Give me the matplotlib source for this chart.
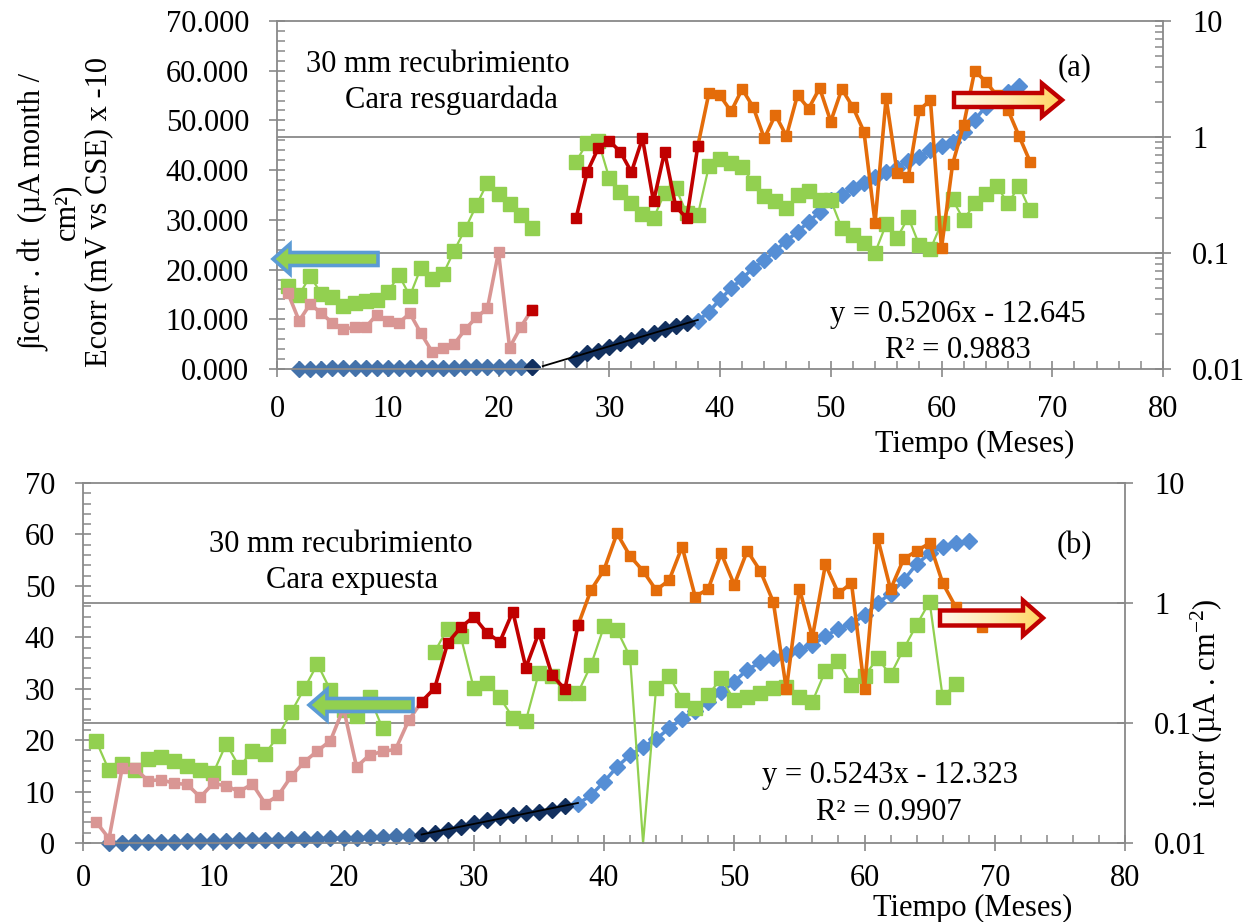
import numpy as np
import matplotlib.pyplot as plt
from matplotlib.patches import Polygon
from matplotlib.colors import LinearSegmentedColormap
from matplotlib.ticker import MultipleLocator, FormatStrFormatter, FuncFormatter, NullLocator, LogLocator
from matplotlib.transforms import blended_transform_factory

plt.rcParams['font.family'] = ['Liberation Serif', 'DejaVu Serif']
plt.rcParams['mathtext.default'] = 'regular'

# ---------------- (a) 30 mm recubrimiento, cara resguardada ----------------
# Ecorr (mV vs CSE) x -10, left axis; None = no measurement
months_ecorr_a = list(range(1, 69))
ecorr_a = [16.6, 14.9, 18.7, 15.1, 14.4, 12.7, 13.2, 13.7, 13.9, 15.4, 18.9, 14.7,
           20.4, 18.1, 19.1, 23.8, 28.2, 32.9, 37.5, 35.3, 33.2, 31.0, 28.4,
           None, None, None,
           41.7, 45.5, 45.9, 38.4, 35.7, 33.3, 31.2, 30.3, 35.4, 36.4,
           31.3, 31.0, 40.8, 42.2, 41.5, 40.7, 37.4, 34.7, 33.7, 32.3,
           35.0, 35.8, 34.0, 34.0, 28.3, 27.0, 25.3, 23.4, 29.1, 26.4,
           30.5, 24.9, 24.1, 29.3, 34.1, 30.0, 33.3, 35.2, 36.8, 33.3,
           36.8, 31.9]

# icorr (uA/cm2), right log axis, three periods
months_icorr_a1 = list(range(1, 24))
icorr_a1 = [0.0448, 0.0260, 0.0364, 0.0302, 0.0250, 0.0220, 0.0229, 0.0229, 0.0293,
            0.0260, 0.0250, 0.0302, 0.0203, 0.0141, 0.0153, 0.0164, 0.0220, 0.0279,
            0.0333, 0.1017, 0.0153, 0.0229, 0.0324]
months_icorr_a2 = list(range(23, 39))
icorr_a2 = [0.0324, None, None, None, 0.199, 0.498, 0.800, 0.927, 0.746, 0.498,
            0.974, 0.278, 0.746, 0.252, 0.199, 0.840]
months_icorr_a3 = list(range(38, 69))
icorr_a3 = [0.840, 2.39, 2.28, 1.66, 2.59, 1.81, 0.974, 1.55, 1.02, 2.30, 1.76, 2.64,
            1.36, 2.59, 1.81, 1.11, 0.182, 2.17, 0.488, 0.451, 1.71, 2.08, 0.110,
            0.583, 1.27, 3.73, 3.00, 2.28, 1.71, 1.02, 0.612]

# integral icorr.dt (uA month/cm2), left axis
months_int_a1 = list(range(2, 24))
int_a1 = [0.05, 0.1, 0.1, 0.15, 0.15, 0.2, 0.2, 0.2, 0.25, 0.25, 0.25, 0.3, 0.3,
          0.3, 0.3, 0.35, 0.35, 0.4, 0.4, 0.45, 0.5, 0.5]
months_int_a2 = list(range(23, 38))
int_a2 = [0.5, None, None, None, 2.1, 3.2, 3.6, 4.4, 5.2, 5.8, 6.6, 7.3, 8.0, 8.7, 9.3]
months_int_a3 = list(range(38, 68))
int_a3 = [9.7, 11.5, 14.0, 16.2, 18.2, 20.3, 21.9, 23.8, 25.8, 27.6, 29.6, 31.6,
          34.0, 35.0, 36.4, 37.4, 38.6, 39.6, 40.5, 41.9, 42.7, 44.1, 44.9, 45.7,
          47.7, 50.1, 52.8, 54.5, 55.8, 56.9]

# ---------------- (b) 30 mm recubrimiento, cara expuesta ----------------
months_ecorr_b = list(range(1, 68))
ecorr_b = [19.9, 14.1, 15.3, 14.2, 16.3, 16.7, 16.0, 15.0, 14.1, 13.6, 19.3, 14.8,
           17.9, 17.4, 20.9, 25.5, 30.1, 34.8, 29.7, 25.8, 24.7, 28.4, 22.3,
           None, None, None,
           37.2, 41.7, 40.2, 30.1, 31.2, 28.3, 24.4, 23.8, 33.1, 32.5,
           29.2, 29.2, 34.6, 42.1, 41.4, 36.2, 0.0, 30.1, 32.5, 27.9,
           26.2, 28.8, 32.0, 27.8, 28.4, 29.2, 30.1, 30.4, 28.4, 27.5,
           33.5, 35.3, 30.7, 32.5, 35.9, 32.7, 37.7, 42.4, 46.9, 28.4,
           30.9]

months_icorr_b1 = list(range(1, 27))
icorr_b1 = [0.0150, 0.0109, 0.0418, 0.0418, 0.0330, 0.0337, 0.0314, 0.0308, 0.0241,
            0.0314, 0.0299, 0.0268, 0.0311, 0.0212, 0.0250, 0.0361, 0.0475, 0.0585,
            0.0713, 0.133, 0.0431, 0.0541, 0.0579, 0.0603, 0.105, 0.151]
months_icorr_b2 = list(range(26, 39))
icorr_b2 = [0.151, 0.195, 0.465, 0.625, 0.769, 0.566, 0.474, 0.848, 0.289, 0.566,
            0.252, 0.191, 0.650]
months_icorr_b3 = list(range(38, 68)) + [69]
icorr_b3 = [0.650, 1.28, 1.89, 3.80, 2.46, 1.85, 1.28, 1.55, 2.94, 1.13, 1.31, 2.59,
            1.42, 2.72, 1.85, 1.02, 0.191, 1.32, 0.518, 2.10, 1.20, 1.47, 0.191,
            3.51, 1.30, 2.32, 2.72, 3.15, 1.47, 0.927, 0.631]

months_int_b1 = list(range(2, 26))
int_b1 = [0.0, 0.05, 0.1, 0.1, 0.2, 0.2, 0.3, 0.3, 0.4, 0.4, 0.5, 0.5, 0.6, 0.6,
          0.7, 0.7, 0.8, 0.9, 0.9, 1.0, 1.1, 1.2, 1.3, 1.4]
months_int_b2 = list(range(26, 38))
int_b2 = [1.6, 1.9, 2.5, 3.2, 3.8, 4.5, 5.1, 5.4, 5.9, 6.1, 6.5, 7.1]
months_int_b3 = list(range(38, 69))
int_b3 = [7.6, 9.3, 11.9, 14.8, 17.1, 18.7, 20.2, 22.3, 24.2, 25.7, 27.5, 29.3,
          31.4, 33.7, 35.1, 35.9, 36.7, 37.5, 38.5, 40.2, 41.7, 42.6, 44.3, 46.6,
          48.5, 51.1, 54.2, 56.3, 57.6, 58.3, 58.7]

GREEN = '#92D050'
PINK = '#D99694'
RED = '#C00000'
ORANGE = '#E46C0A'
BLUE1 = '#4472AA'
NAVY = '#12305F'
LBLUE = '#558ED5'
GRAY = '#898989'

W, H = 1256, 922
fig = plt.figure(figsize=(W / 100, H / 100), dpi=100)


def arr(v):
    return np.array(v, dtype=float)


def panel(rect, ecorr_m, ecorr, icorr_sets, int_sets, ylabfmt, right_minor, xpad):
    ax = fig.add_axes(rect)
    ax2 = ax.twinx()
    ax.set_xlim(0, 80)
    ax.set_ylim(0, 70)
    ax2.set_yscale('log')
    ax2.set_ylim(0.01, 10)

    # horizontal grid at the icorr decades, drawn behind the series
    tr = blended_transform_factory(ax.transAxes, ax2.transData)
    for v in [1, 0.1]:
        ax.plot([0, 1], [v, v], transform=tr, color=GRAY, lw=1.3, zorder=0.5)

    # integral of icorr (diamonds) + linear trend on the dark segment
    (m1, y1), (m2, y2), (m3, y3) = int_sets
    ax.plot(m1, arr(y1), color=BLUE1, marker='D', ms=8.5, lw=2.5, clip_on=False, zorder=2)
    ax.plot(m3, arr(y3), color=LBLUE, marker='D', ms=8.5, lw=2.5, clip_on=False, zorder=2)
    ax.plot(m2, arr(y2), color=NAVY, marker='D', ms=8.5, lw=2.5, clip_on=False, zorder=2)
    y2a = arr(y2)
    ok = ~np.isnan(y2a)
    coef = np.polyfit(np.array(m2)[ok], y2a[ok], 1)
    x0 = m2[0] + 1 if np.isnan(y2a[1]) else m2[0]
    xt = np.array([x0, 38])
    ax.plot(xt, np.polyval(coef, xt), color='black', lw=1.3, zorder=3)

    # Ecorr (green squares)
    e = arr(ecorr)
    ax.plot(ecorr_m, e, color=GREEN, lw=1.6, zorder=2.5, clip_on=False)
    keep = [i for i, v in enumerate(e) if v > 0]
    ax.plot(ecorr_m, e, color=GREEN, lw=0, marker='s', ms=10, markevery=keep,
            zorder=2.5, clip_on=False)

    # icorr (pink / orange / red)
    (p_m, p_y), (r_m, r_y), (o_m, o_y) = icorr_sets
    ax2.plot(p_m, arr(p_y), color=PINK, marker='s', ms=6.5, lw=2.6, clip_on=False)
    ax2.plot(o_m, arr(o_y), color=ORANGE, marker='s', ms=6.5, lw=2.6, clip_on=False)
    ax2.plot(r_m, arr(r_y), color=RED, marker='s', ms=6.5, lw=2.6, clip_on=False)

    # axes styling
    ax.spines['right'].set_visible(False)
    for s in ['left', 'bottom', 'top']:
        ax.spines[s].set_color(GRAY)
        ax.spines[s].set_linewidth(1.3)
        ax2.spines[s].set_visible(False)
    ax2.spines['right'].set_color(GRAY)
    ax2.spines['right'].set_linewidth(1.3)

    ax.xaxis.set_major_locator(MultipleLocator(10))
    ax.xaxis.set_minor_locator(MultipleLocator(2))
    ax.yaxis.set_major_locator(MultipleLocator(10))
    ax.yaxis.set_minor_locator(MultipleLocator(2))
    ax.yaxis.set_major_formatter(FormatStrFormatter(ylabfmt))
    ax.tick_params(which='major', direction='inout', length=12, width=1.2, color=GRAY,
                   labelsize=22)
    ax.tick_params(which='minor', direction='in', length=5.5, width=1.1, color=GRAY)
    ax.tick_params(axis='x', which='major', pad=xpad)
    ax.tick_params(axis='y', which='major', pad=14)

    ax2.yaxis.set_major_locator(LogLocator(base=10, numticks=10))
    ax2.yaxis.set_major_formatter(FuncFormatter(lambda v, _: f'{v:g}'))
    if right_minor:
        ax2.yaxis.set_minor_locator(LogLocator(base=10, subs=np.arange(2, 10), numticks=10))
    else:
        ax2.yaxis.set_minor_locator(NullLocator())
    ax2.yaxis.set_minor_formatter(FuncFormatter(lambda v, _: ''))
    ax2.tick_params(which='major', direction='inout', length=12, width=1.2, color=GRAY,
                    labelsize=22, pad=15)
    ax2.tick_params(which='minor', direction='in', length=5.5, width=1.1, color=GRAY)
    return ax, ax2


ax_a, ax2_a = panel([277 / W, 1 - 369 / H, 886 / W, 348 / H],
                    months_ecorr_a, ecorr_a,
                    [(months_icorr_a1, icorr_a1), (months_icorr_a2, icorr_a2), (months_icorr_a3, icorr_a3)],
                    [(months_int_a1, int_a1), (months_int_a2, int_a2), (months_int_a3, int_a3)],
                    '%.3f', True, 13)
ax_b, ax2_b = panel([83 / W, 1 - 843 / H, 1042 / W, 360 / H],
                    months_ecorr_b, ecorr_b,
                    [(months_icorr_b1, icorr_b1), (months_icorr_b2, icorr_b2), (months_icorr_b3, icorr_b3)],
                    [(months_int_b1, int_b1), (months_int_b2, int_b2), (months_int_b3, int_b3)],
                    '%d', False, 9)

# overlay in pixel coordinates for labels and arrows
ov = fig.add_axes([0, 0, 1, 1], zorder=10)
ov.set_axis_off()


def block_arrow(x_tail, x_tip, yc, body, head, head_len, face, edge, lw, grad=None):
    d = np.sign(x_tip - x_tail)
    xb = x_tip - d * head_len
    pts = [(x_tail, yc - body / 2), (xb, yc - body / 2), (xb, yc - head / 2), (x_tip, yc),
           (xb, yc + head / 2), (xb, yc + body / 2), (x_tail, yc + body / 2)]
    ov.add_patch(Polygon(pts, closed=True, fc=face, ec='none', zorder=1))
    if grad is not None:
        g = np.linspace(0, 1, 256).reshape(1, -1)
        im = ov.imshow(g, cmap=grad, aspect='auto', zorder=2,
                       extent=(min(x_tail, x_tip), max(x_tail, x_tip), yc + head / 2, yc - head / 2))
        clip = Polygon(pts, closed=True, fc='none', ec='none')
        ov.add_patch(clip)
        im.set_clip_path(clip)
    ov.add_patch(Polygon(pts, closed=True, fc='none', ec=edge, lw=lw, joinstyle='miter', zorder=3))


warm = LinearSegmentedColormap.from_list('warm', ['#FFF8EE', '#FFE9B0', '#FFD460'])

block_arrow(378, 273, 259, 13, 30, 17, GREEN, '#5B9BD5', 2.6)
block_arrow(413, 309, 705, 13, 31, 18, GREEN, '#5B9BD5', 2.6)
block_arrow(954, 1062, 100, 14, 33, 20, '#FFE9B0', RED, 3.2, warm)
block_arrow(940, 1043, 618, 15, 35, 20, '#FFE9B0', RED, 3.2, warm)

ov.set_xlim(0, W)
ov.set_ylim(H, 0)

fs = 22
ov.text(438, 72, '30 mm recubrimiento', ha='center', va='baseline', fontsize=fs)
ov.text(451, 108, 'Cara resguardada', ha='center', va='baseline', fontsize=fs)
ov.text(1075, 75, '(a)', ha='center', va='baseline', fontsize=fs)
ov.text(958, 322, 'y = 0.5206x - 12.645', ha='center', va='baseline', fontsize=fs)
ov.text(958, 358, 'R² = 0.9883', ha='center', va='baseline', fontsize=fs)

ov.text(341, 552, '30 mm recubrimiento', ha='center', va='baseline', fontsize=fs)
ov.text(352, 588, 'Cara expuesta', ha='center', va='baseline', fontsize=fs)
ov.text(1074, 553, '(b)', ha='center', va='baseline', fontsize=fs)
ov.text(890, 783, 'y = 0.5243x - 12.323', ha='center', va='baseline', fontsize=fs)
ov.text(889, 820, 'R² = 0.9907', ha='center', va='baseline', fontsize=fs)

ov.text(975, 452, 'Tiempo (Meses)', ha='center', va='baseline', fontsize=fs)
ov.text(973, 916, 'Tiempo (Meses)', ha='center', va='baseline', fontsize=fs)

ov.text(66, 212, '∫icorr . dt  (µA month /\ncm²)\nEcorr (mV vs CSE) x -10',
        rotation=90, ha='center', va='center', multialignment='center',
        linespacing=1.1, fontsize=fs)
ov.text(1207, 703, 'icorr (µA . cm$^{-2}$)', rotation=90, ha='center', va='center',
        fontsize=fs)

fig.savefig('out.png', dpi=100)
